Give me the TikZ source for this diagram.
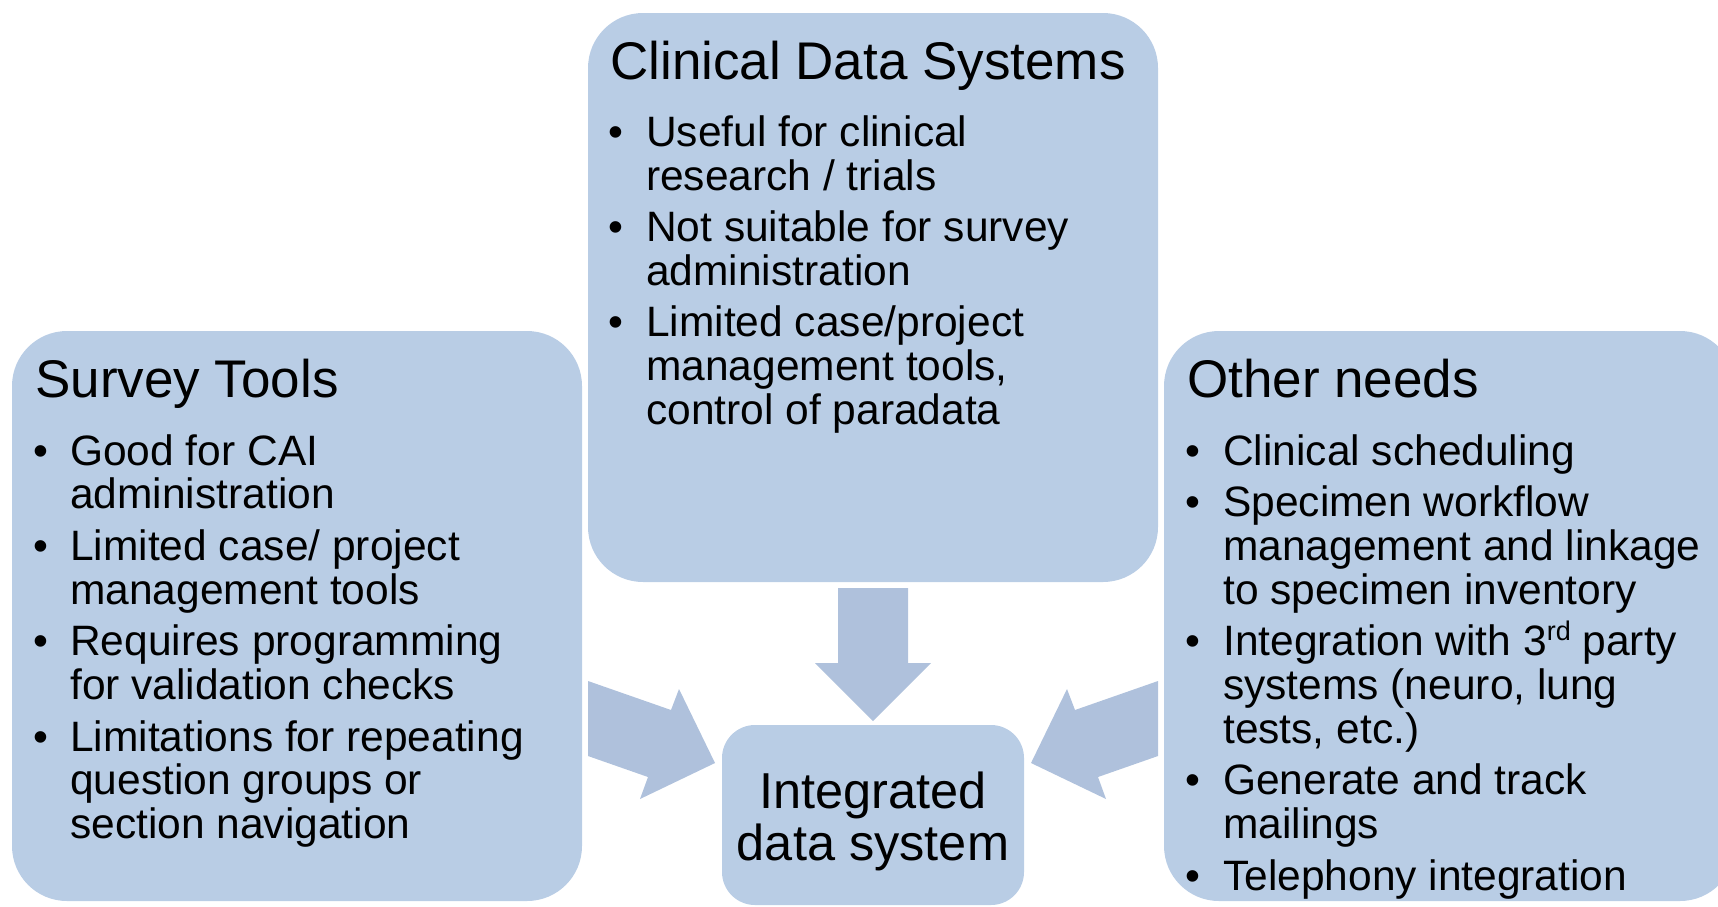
\documentclass[tikz,border=0pt]{standalone}
\usepackage{fontspec}
\setmainfont{Liberation Sans}
\definecolor{boxblue}{RGB}{185,205,229}
\definecolor{arrblue}{RGB}{175,193,220}
\tikzset{
  box/.style={fill=boxblue, draw=none, rounded corners=55pt, inner sep=0pt},
  smallbox/.style={fill=boxblue, draw=none, rounded corners=33pt, inner sep=0pt},
  blockarrow/.style={fill=arrblue, draw=none},
  ttl/.style={anchor=base west, inner sep=0pt, font=\fontsize{53}{53}\selectfont},
  txt/.style={anchor=base west, inner sep=0pt, font=\fontsize{42.5}{44}\selectfont},
  ctr/.style={anchor=base, inner sep=0pt, font=\fontsize{50.5}{50.5}\selectfont},
}
\begin{document}
\begin{tikzpicture}[x=1pt,y=-1pt]
\useasboundingbox (0,0) rectangle (1718,906);
\clip (0,0) rectangle (1718,906);

% boxes
\node[box, minimum width=570pt, minimum height=569pt] (clin) at (873,297.5) {};
\node[box, minimum width=570pt, minimum height=570pt] (surv) at (297,616) {};
\node[box, minimum width=571pt, minimum height=570pt] (oth) at (1449.5,616) {};
\node[smallbox, minimum width=302pt, minimum height=180pt] (integ) at (873,815) {};

% block arrows
\fill[blockarrow] (838,588) -- (908,588) -- (908,663) -- (931,663) -- (873,721) -- (815,663) -- (838,663) -- cycle;
\fill[blockarrow] (588,681) -- (671,710) -- (679,689) -- (715,763) -- (640,799) -- (648,777) -- (588,756) -- cycle;
\fill[blockarrow] (1158,681) -- (1075,710) -- (1067,689) -- (1031,763) -- (1106,799) -- (1098,777) -- (1158,756) -- cycle;

% Clinical Data Systems
\node[ttl] (cT) at (610,79) {Clinical Data Systems};
\node[txt] (cb1) at (608,146) {\textbullet};
\node[txt] (c1a) at (646,146) {Useful for clinical};
\node[txt] (c1b) at (646,190) {research / trials};
\node[txt] (cb2) at (608,241) {\textbullet};
\node[txt] (c2a) at (646,241) {Not suitable for survey};
\node[txt] (c2b) at (646,285) {administration};
\node[txt] (cb3) at (608,336) {\textbullet};
\node[txt] (c3a) at (646,336) {Limited case/project};
\node[txt] (c3b) at (646,380) {management tools,};
\node[txt] (c3c) at (646,424) {control of paradata};

% Survey Tools
\node[ttl] (sT) at (35,397) {Survey Tools};
\node[txt] (sb1) at (33,465) {\textbullet};
\node[txt] (s1a) at (70,465) {Good for CAI};
\node[txt] (s1b) at (70,508) {administration};
\node[txt] (sb2) at (33,560) {\textbullet};
\node[txt] (s2a) at (70,560) {Limited case/ project};
\node[txt] (s2b) at (70,604) {management tools};
\node[txt] (sb3) at (33,655) {\textbullet};
\node[txt] (s3a) at (70,655) {Requires programming};
\node[txt] (s3b) at (70,699) {for validation checks};
\node[txt] (sb4) at (33,751) {\textbullet};
\node[txt] (s4a) at (70,751) {Limitations for repeating};
\node[txt] (s4b) at (70,794) {question groups or};
\node[txt] (s4c) at (70,838) {section navigation};

% Other needs
\node[ttl] (oT) at (1187,397) {Other needs};
\node[txt] (ob1) at (1185,465) {\textbullet};
\node[txt] (o1a) at (1223,465) {Clinical scheduling};
\node[txt] (ob2) at (1185,516) {\textbullet};
\node[txt] (o2a) at (1223,516) {Specimen workflow};
\node[txt] (o2b) at (1223,560) {management and linkage};
\node[txt] (o2c) at (1223,604) {to specimen inventory};
\node[txt] (ob3) at (1185,655) {\textbullet};
\node[txt] (o3a) at (1223,655) {Integration with 3\raisebox{0.33em}{\fontsize{27}{27}\selectfont rd} party};
\node[txt] (o3b) at (1223,699) {systems (neuro, lung};
\node[txt] (o3c) at (1223,743) {tests, etc.)};
\node[txt] (ob4) at (1185,794) {\textbullet};
\node[txt] (o4a) at (1223,794) {Generate and track};
\node[txt] (o4b) at (1223,838) {mailings};
\node[txt] (ob5) at (1185,890) {\textbullet};
\node[txt] (o5a) at (1223,890) {Telephony integration};

% Integrated
\node[ctr] (i1) at (873,808) {Integrated};
\node[ctr] (i2) at (873,860) {data system};
\end{tikzpicture}
\end{document}
